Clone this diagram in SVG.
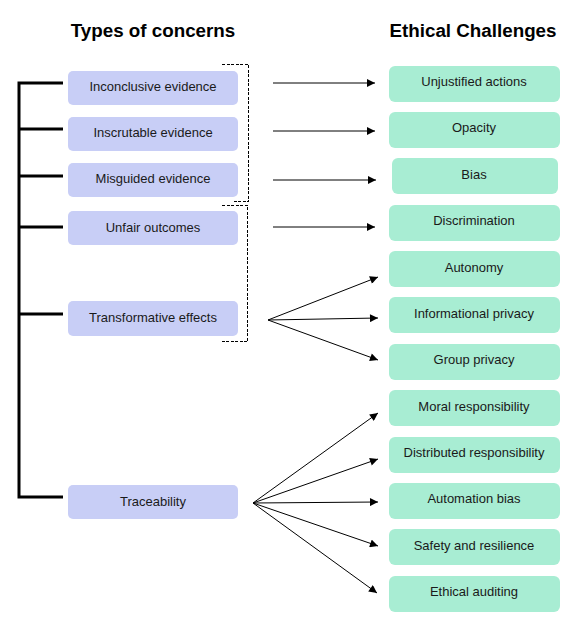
<svg xmlns="http://www.w3.org/2000/svg" width="582" height="620" viewBox="0 0 582 620">
<style>
.bg{fill:#ffffff}
.l rect{fill:#c8cef6}
.r rect{fill:#a8edd3}
.t{font-family:"Liberation Sans",Arial,sans-serif;font-size:13px;fill:#1a1a1a;text-anchor:middle;dominant-baseline:central}
.h{font-family:"Liberation Sans",Arial,sans-serif;font-size:18.8px;font-weight:bold;fill:#000;text-anchor:middle}
.br{stroke:#000;stroke-width:3;fill:none}
.ar{stroke:#000;stroke-width:1;fill:none;marker-end:url(#ah)}
.ds{stroke:#000;stroke-width:1;fill:none;stroke-dasharray:3,1.5;shape-rendering:crispEdges}
</style>
<defs>
<marker id="ah" viewBox="0 0 10 10" refX="10" refY="5" markerWidth="10" markerHeight="8" markerUnits="userSpaceOnUse" orient="auto">
<path d="M0,0 L10,5 L0,10 z" fill="#000"/>
</marker>
</defs>
<rect class="bg" width="582" height="620"/>
<text class="h" x="153" y="37">Types of concerns</text>
<text class="h" x="473" y="37">Ethical Challenges</text>

<g id="connectors">
<path class="br" d="M63,83 H19 V497 H63 M19,129 H63 M19,176 H63 M19,227 H63 M19,314 H63"/>
<path class="ds" d="M222,64.5 H248.5 V201.5 H233"/>
<path class="ds" d="M222,205.5 H247.5 V341.5 H222"/>
<line class="ar" x1="273" y1="83" x2="375" y2="83"/>
<line class="ar" x1="273" y1="131" x2="375" y2="131"/>
<line class="ar" x1="273" y1="180" x2="376" y2="180"/>
<line class="ar" x1="273" y1="227" x2="375" y2="227"/>
<line class="ar" x1="268" y1="320" x2="378" y2="277"/>
<line class="ar" x1="268" y1="320" x2="378" y2="318"/>
<line class="ar" x1="268" y1="320" x2="378" y2="360"/>
<line class="ar" x1="253" y1="503" x2="378" y2="413"/>
<line class="ar" x1="253" y1="503" x2="378" y2="459"/>
<line class="ar" x1="253" y1="503" x2="378" y2="502"/>
<line class="ar" x1="253" y1="503" x2="378" y2="546"/>
<line class="ar" x1="253" y1="503" x2="377" y2="593"/>
</g>

<g id="inconclusive" class="l"><rect x="68" y="71" width="170" height="34" rx="5"/><text class="t" x="153" y="86.5">Inconclusive evidence</text></g>
<g id="inscrutable" class="l"><rect x="68" y="117" width="170" height="34" rx="5"/><text class="t" x="153" y="132.5">Inscrutable evidence</text></g>
<g id="misguided" class="l"><rect x="68" y="163" width="170" height="34" rx="5"/><text class="t" x="153" y="178.5">Misguided evidence</text></g>
<g id="unfair" class="l"><rect x="68" y="211" width="170" height="34" rx="5"/><text class="t" x="153" y="227">Unfair outcomes</text></g>
<g id="transformative" class="l"><rect x="68" y="301" width="170" height="35" rx="5"/><text class="t" x="153" y="317">Transformative effects</text></g>
<g id="traceability" class="l"><rect x="68" y="485" width="170" height="34" rx="5"/><text class="t" x="153" y="501">Traceability</text></g>

<g id="unjustified" class="r"><rect x="389" y="66" width="171" height="36" rx="6"/><text class="t" x="474" y="81.5">Unjustified actions</text></g>
<g id="opacity" class="r"><rect x="389" y="112" width="171" height="36" rx="6"/><text class="t" x="474" y="127.5">Opacity</text></g>
<g id="bias" class="r"><rect x="392" y="158" width="166" height="36" rx="6"/><text class="t" x="474" y="174">Bias</text></g>
<g id="discrimination" class="r"><rect x="389" y="205" width="171" height="36" rx="6"/><text class="t" x="474" y="220.5">Discrimination</text></g>
<g id="autonomy" class="r"><rect x="389" y="251" width="171" height="36" rx="6"/><text class="t" x="474" y="267">Autonomy</text></g>
<g id="informational" class="r"><rect x="389" y="297" width="171" height="36" rx="6"/><text class="t" x="474" y="313">Informational privacy</text></g>
<g id="group" class="r"><rect x="389" y="344" width="171" height="36" rx="6"/><text class="t" x="474" y="359.5">Group privacy</text></g>
<g id="moral" class="r"><rect x="389" y="390" width="171" height="36" rx="6"/><text class="t" x="474" y="406">Moral responsibility</text></g>
<g id="distributed" class="r"><rect x="389" y="437" width="171" height="36" rx="6"/><text class="t" x="474" y="452">Distributed responsibility</text></g>
<g id="automation" class="r"><rect x="389" y="483" width="171" height="36" rx="6"/><text class="t" x="474" y="498.5">Automation bias</text></g>
<g id="safety" class="r"><rect x="389" y="529" width="171" height="36" rx="6"/><text class="t" x="474" y="545">Safety and resilience</text></g>
<g id="ethical" class="r"><rect x="389" y="576" width="171" height="36" rx="6"/><text class="t" x="474" y="591">Ethical auditing</text></g>
</svg>
